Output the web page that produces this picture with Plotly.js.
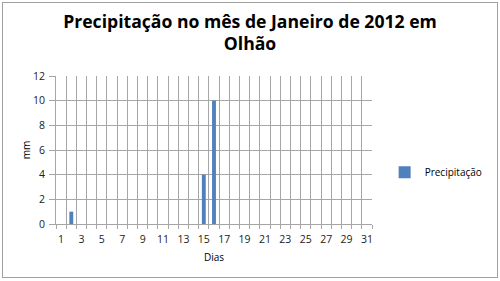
<!DOCTYPE html>
<html><head><meta charset="utf-8">
<script src="https://cdn.plot.ly/plotly-3.0.1.min.js"></script>
<style>
html,body{margin:0;padding:0;background:#fff;}
#chart{position:absolute;left:0;top:0;width:500px;height:281px;}
#frame{position:absolute;left:2px;top:2px;width:494px;height:274px;border:1px solid #a0a0a0;pointer-events:none;}
</style>
</head><body>
<div id="chart"></div><div id="frame"></div>
<script>
const days = [1,2,3,4,5,6,7,8,9,10,11,12,13,14,15,16,17,18,19,20,21,22,23,24,25,26,27,28,29,30,31];
const precip = [0,1,0,0,0,0,0,0,0,0,0,0,0,0,4,10,0,0,0,0,0,0,0,0,0,0,0,0,0,0,0];
const yTicks = [0,2,4,6,8,10,12];
const seriesName = 'Precipitação';
const titleText = 'Precipitação no mês de Janeiro de 2012 em<br>Olhão';

const boundaries = days.map(d => d - 0.5).concat([days[days.length-1] + 0.5]);
const labelDays = days.filter(d => d % 2 === 1);
const xr = [boundaries[0], boundaries[boundaries.length-1]];
const font = 'Open Sans, DejaVu Sans, sans-serif';
const grid = '#a6a6a6';

const data = [{
  type: 'bar', x: days, y: precip, name: seriesName,
  marker: {color: '#4F81BD', line: {width: 0}},
  width: 0.38, showlegend: true
}];

data.push({type: 'scatter', x: [xr[0]], y: [0], xaxis: 'x2', mode: 'markers',
  marker: {opacity: 0}, showlegend: false, hoverinfo: 'skip'});

const layout = {
  width: 500, height: 281,
  margin: {l: 56, r: 100, t: 76, b: 57},
  paper_bgcolor: '#fff', plot_bgcolor: '#fff',
  title: {text: titleText, x: 0.5, xanchor: 'center', yref: 'container', y: 0.902, yanchor: 'middle',
    font: {family: font, size: 17.6, color: '#000', weight: 'bold'}},
  font: {family: font, size: 10, color: '#000'},
  xaxis: {type: 'linear', range: xr, tickvals: boundaries, ticktext: boundaries.map(() => ''),
    showticklabels: false, showgrid: true, gridcolor: grid, gridwidth: 1,
    ticks: 'outside', ticklen: 4, tickcolor: grid, zeroline: false,
    showline: true, linecolor: grid, mirror: false, fixedrange: true},
  xaxis2: {type: 'linear', overlaying: 'x', matches: 'x', range: xr, tickvals: labelDays,
    ticktext: labelDays.map(String), showgrid: false, zeroline: false, ticks: '',
    side: 'bottom', anchor: 'y', ticklabelstandoff: 7,
    tickfont: {family: font, size: 10.5, color: '#222'},
    title: {text: 'Dias', font: {family: font, size: 10, color: '#000'}, standoff: 9}},
  yaxis: {range: [0, 12], tickvals: yTicks, showgrid: true, gridcolor: grid, gridwidth: 1,
    ticks: 'outside', ticklen: 6, tickcolor: grid, showline: true, linecolor: grid,
    zeroline: false, ticklabelstandoff: 2, tickfont: {family: font, size: 10.5, color: '#222'},
    title: {text: 'mm', font: {family: font, size: 10, color: '#000'}, standoff: 0}},
  legend: {x: 1.04, xanchor: 'left', y: 0.35, yanchor: 'middle',
    font: {family: font, size: 10, color: '#000'}, bgcolor: 'rgba(0,0,0,0)'},
  showlegend: true
};

Plotly.newPlot('chart', data, layout, {staticPlot: true, displayModeBar: false});
</script>
</body></html>
